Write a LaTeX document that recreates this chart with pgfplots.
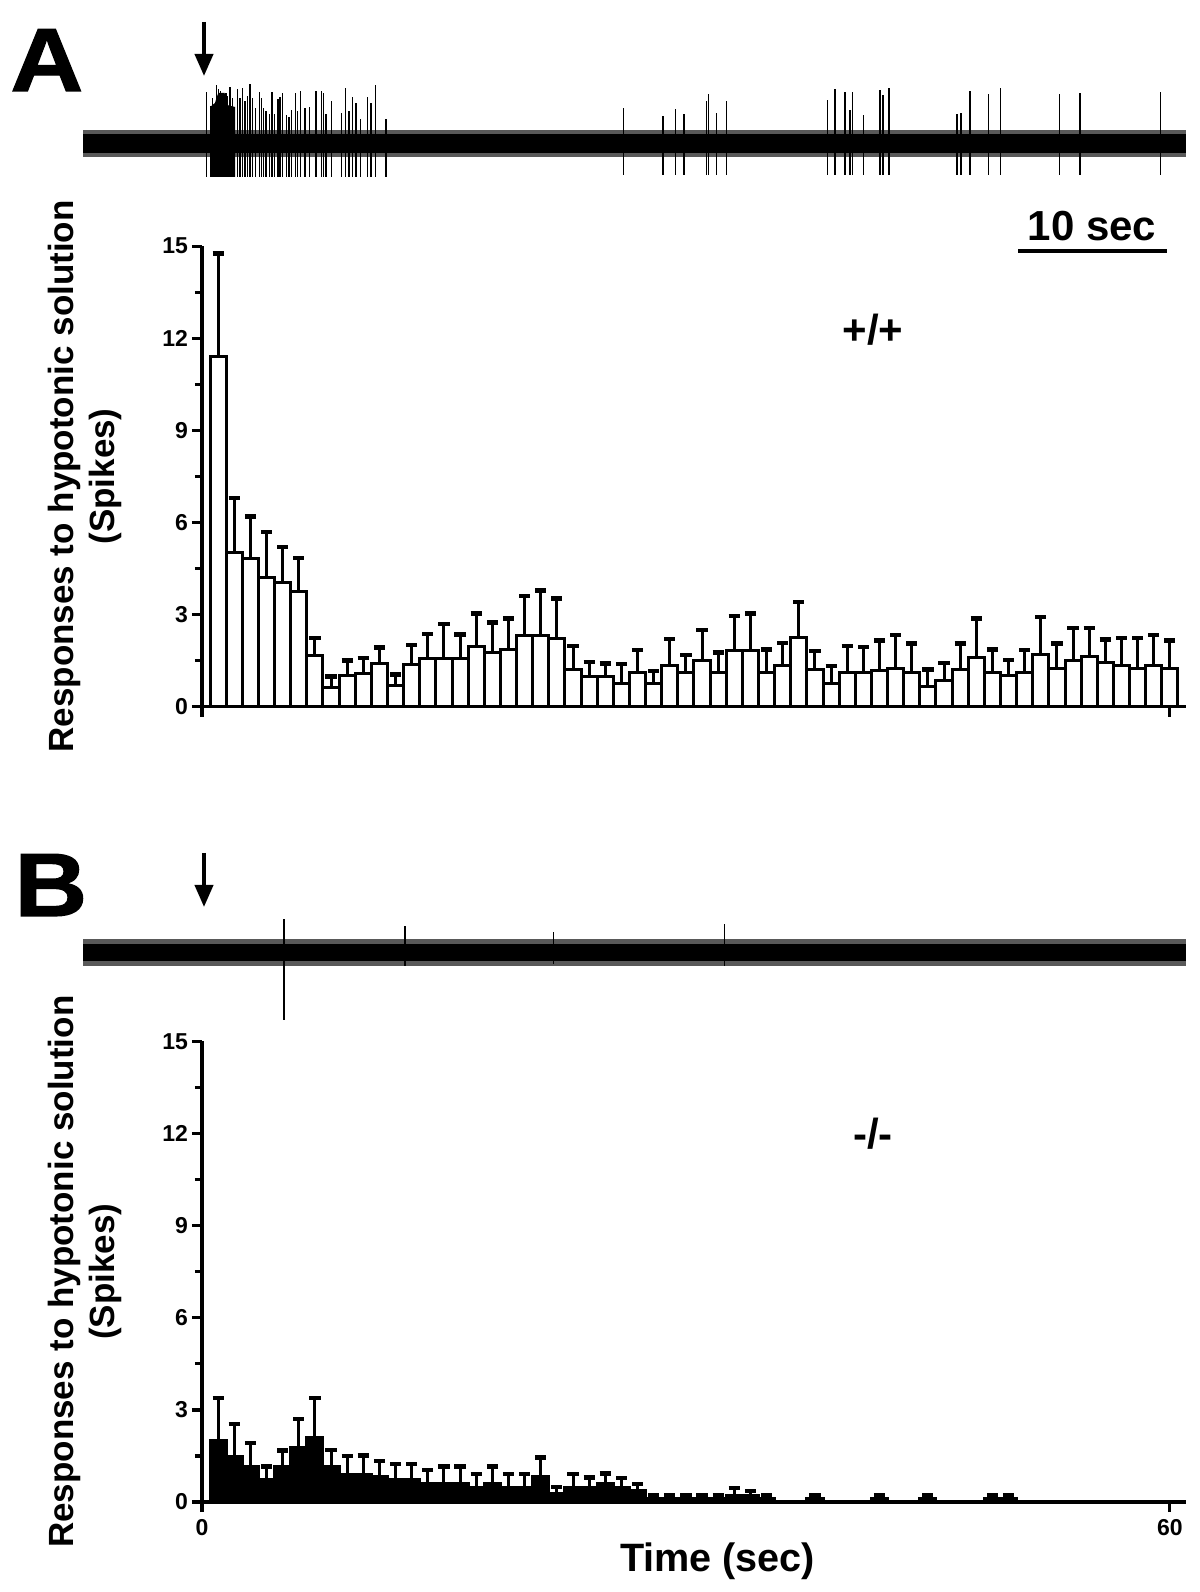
\documentclass[border=0pt]{standalone}
\usepackage{fontspec}
\setmainfont{Liberation Sans}
\newfontfamily\heavyfont{Liberation Sans Bold}[FakeBold=1.2]
\usepackage{pgfplots}
\usepackage{pgfplotstable}
\pgfplotsset{compat=1.18}
\usetikzlibrary{arrows.meta}

% Panel A histogram: bin (s), mean spikes, SEM
\pgfplotstableread{
t v e
1 11.40 3.36
2 5.02 1.77
3 4.84 1.36
4 4.21 1.49
5 4.04 1.16
6 3.76 1.09
7 1.66 0.58
8 0.63 0.35
9 1.00 0.50
10 1.08 0.51
11 1.41 0.52
12 0.70 0.35
13 1.39 0.61
14 1.57 0.79
15 1.57 1.12
16 1.57 0.78
17 1.95 1.08
18 1.76 0.98
19 1.85 1.02
20 2.31 1.30
21 2.31 1.48
22 2.22 1.30
23 1.21 0.77
24 0.98 0.48
25 0.98 0.43
26 0.76 0.63
27 1.13 0.71
28 0.76 0.41
29 1.33 0.88
30 1.13 0.55
31 1.52 0.97
32 1.13 0.64
33 1.84 1.11
34 1.84 1.19
35 1.13 0.73
36 1.33 0.75
37 2.24 1.17
38 1.21 0.60
39 0.76 0.56
40 1.11 0.87
41 1.11 0.84
42 1.19 0.96
43 1.24 1.09
44 1.13 0.93
45 0.65 0.56
46 0.85 0.58
47 1.21 0.85
48 1.60 1.27
49 1.13 0.73
50 1.02 0.50
51 1.13 0.71
52 1.71 1.21
53 1.24 0.82
54 1.52 1.05
55 1.63 0.94
56 1.43 0.76
57 1.33 0.91
58 1.24 1.00
59 1.33 1.00
60 1.24 0.91
}\dataA

% Panel B histogram
\pgfplotstableread{
t v e
1 2.01 1.37
2 1.47 1.07
3 1.15 0.78
4 0.72 0.43
5 1.15 0.53
6 1.79 0.92
7 2.11 1.27
8 1.15 0.55
9 0.91 0.58
10 0.91 0.60
11 0.83 0.51
12 0.72 0.51
13 0.72 0.51
14 0.59 0.45
15 0.59 0.56
16 0.59 0.56
17 0.48 0.43
18 0.59 0.56
19 0.48 0.43
20 0.48 0.43
21 0.83 0.62
22 0.29 0.19
23 0.48 0.43
24 0.48 0.32
25 0.59 0.34
26 0.48 0.30
27 0.36 0.22
28 0.11 0.10
29 0.11 0.10
30 0.11 0.10
31 0.11 0.10
32 0.11 0.10
33 0.22 0.23
34 0.20 0.16
35 0.11 0.10
38 0.11 0.10
42 0.11 0.10
45 0.11 0.10
49 0.11 0.10
50 0.11 0.10
}\dataB

% Trace A spikes: time (s), height above / below baseline (px)
\pgfplotstableread{
t up dn
0.29 51 34
0.54 37 34
0.66 45 34
0.91 58 34
1.01 54 34
1.16 52 34
1.28 49 34
1.49 50 34
1.59 47 34
1.74 56 34
1.90 45 34
2.19 54 34
2.36 45 34
2.50 55 34
2.67 42 34
2.81 47 34
2.98 59 34
3.14 45 34
3.33 35 34
3.55 51 34
3.70 45 34
3.80 35 34
3.97 32 34
4.18 29 34
4.34 51 34
4.49 29 34
4.71 44 34
4.84 46 34
4.98 50 34
5.25 28 34
5.39 26 34
5.56 33 34
5.81 50 34
5.91 32 34
6.12 52 34
6.39 35 34
6.66 36 34
7.07 52 34
7.42 52 34
7.52 50 34
7.69 29 34
8.04 42 34
8.66 30 34
8.89 55 34
9.11 32 34
9.34 46 34
9.55 40 34
9.84 24 34
10.27 46 34
10.48 40 34
10.77 58 34
11.41 24 34
26.14 35 32
28.57 27 32
29.35 34 32
29.89 29 32
31.27 42 32
31.41 49 32
31.91 30 32
32.50 42 32
38.77 43 32
39.24 54 32
39.86 51 32
40.17 33 32
40.33 51 32
41.00 28 32
42.02 53 32
42.21 48 32
42.58 55 32
46.81 29 32
47.05 30 32
47.62 52 32
48.76 49 32
49.50 55 32
53.15 49 32
54.43 50 32
59.41 51 32
}\spikesA

\pgfplotstableread{
t up dn
5.08 33 68
12.57 26 14
21.80 20 12
32.40 28 14
}\spikesB

\pgfplotsset{
  histax/.style={
    scale only axis, width=492pt, height=230.25pt,
    xmin=0, xmax=61, ymin=0, ymax=15, enlargelimits=false, clip=false,
    axis x line=bottom, axis y line=left,
    axis line style={-, line width=1.6pt},
    xtick={0,60}, ytick={0,3,6,9,12,15}, minor ytick={1.5,4.5,7.5,10.5,13.5},
    tick align=outside, major tick length=5pt, minor tick length=3.5pt,
    tick style={black, line width=1.6pt},
    /pgf/number format/assume math mode=true,
    tick label style={font=\bfseries\fontsize{11.5pt}{13pt}\selectfont},
    yticklabel style={xshift=1.5pt},
    ylabel={Responses to hypotonic solution\\(Spikes)},
    ylabel style={align=center, font=\bfseries\fontsize{17.5pt}{20.5pt}\selectfont,
      at={(axis description cs:-0.1194,0.5)}, anchor=center},
  },
  traceax/.style={scale only axis, width=551.5pt, height=70pt,
    xmin=-7.38, xmax=61, ymin=-70, ymax=70, hide axis, clip=false, enlargelimits=false},
  spikes/.style={draw=none, mark=none, forget plot,
    error bars/y dir=both, error bars/y explicit, error bars/error mark=none,
    error bars/error bar style={line width=0.7pt, black}},
  bars/.style={ybar, bar width=1, draw=black, line width=1.5pt,
    error bars/y dir=plus, error bars/y explicit,
    error bars/error bar style={line width=1.5pt, black},
    error bars/error mark options={rotate=90, line width=2.2pt, mark size=2.8pt, black}},
}

\begin{document}
\begin{tikzpicture}[x=0.5pt,y=0.5pt]
\useasboundingbox (0,0) rectangle (1200,1592);

% ---------- Panel A trace ----------
\begin{axis}[traceax, at={(41.5pt,689.5pt)}, anchor=south west]
\addplot[fill=black!65, draw=none] coordinates {(-7.38,13) (61,13) (61,-14) (-7.38,-14)} -- cycle;
\addplot[fill=black, draw=none] coordinates {(-7.38,9) (61,9) (61,-10) (-7.38,-10)} -- cycle;
\addplot[fill=black, draw=none] coordinates {(0.50,-34) (0.50,36) (0.80,40) (1.00,50) (1.40,50) (1.55,38) (2.05,36) (2.05,-34)} -- cycle;
\addplot[spikes] table[x=t, y expr=0, y error plus=up, y error minus=dn] {\spikesA};
\end{axis}

% ---------- Panel A histogram ----------
\begin{axis}[histax, at={(101pt,442.65pt)}, anchor=south west, xticklabels={,,}]
\addplot[fill=white, bars] table[x=t, y=v, y error=e] {\dataA};
\end{axis}

% ---------- Panel B trace ----------
\begin{axis}[traceax, at={(41.5pt,285pt)}, anchor=south west]
\addplot[fill=black!65, draw=none] coordinates {(-7.38,13) (61,13) (61,-14) (-7.38,-14)} -- cycle;
\addplot[fill=black, draw=none] coordinates {(-7.38,8) (61,8) (61,-9) (-7.38,-9)} -- cycle;
\addplot[spikes] table[x=t, y expr=0, y error plus=up, y error minus=dn] {\spikesB};
\end{axis}

% ---------- Panel B histogram ----------
\begin{axis}[histax, at={(101pt,45pt)}, anchor=south west,
  xlabel={Time (sec)},
  xlabel style={font=\bfseries\fontsize{19.8pt}{22pt}\selectfont,
    at={(axis description cs:0.524,-0.128)}, anchor=center}]
\addplot[fill=black, bars] table[x=t, y=v, y error=e] {\dataB};
\end{axis}

% ---------- Annotations ----------
\node[anchor=base west, inner sep=0, xscale=1.12, font=\heavyfont\fontsize{45pt}{45pt}\selectfont] at (10,1501) {A};
\node[anchor=base west, inner sep=0, xscale=1.12, font=\heavyfont\fontsize{45pt}{45pt}\selectfont] at (14,676) {B};
\draw[line width=2pt, -{Triangle[length=11pt,width=9pt]}] (204,1570) -- (204,1516);
\draw[line width=2pt, -{Triangle[length=11pt,width=9pt]}] (204,739) -- (204,685);
\draw[line width=2pt] (1018,1341) -- (1167,1341);
\node[font=\bfseries\fontsize{21pt}{21pt}\selectfont] at (1092,1366) {10 sec};
\node[font=\bfseries\fontsize{21pt}{21pt}\selectfont] at (873,1262) {+/+};
\node[font=\bfseries\fontsize{21pt}{21pt}\selectfont] at (873,458) {-/-};
\end{tikzpicture}
\end{document}
